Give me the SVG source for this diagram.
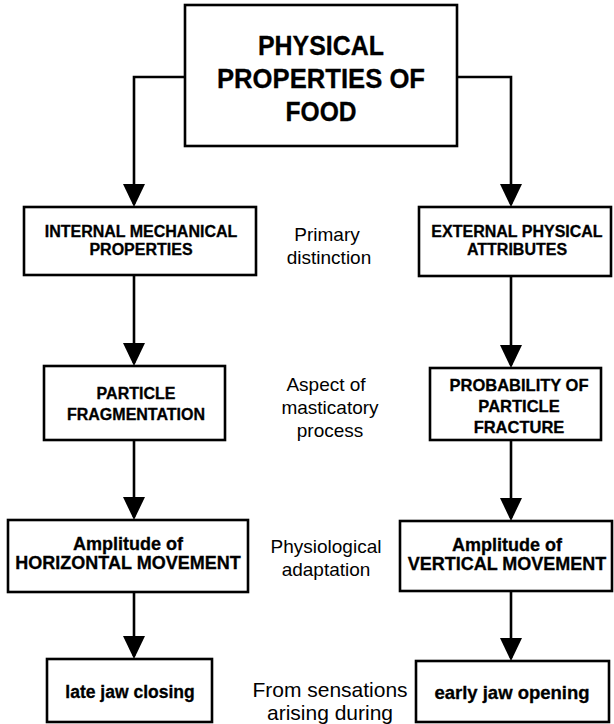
<svg xmlns="http://www.w3.org/2000/svg" width="614" height="724" viewBox="0 0 614 724">
  <style>
    .box { fill: #ffffff; stroke: #000000; stroke-width: 2.6; }
    .conn { fill: none; stroke: #000000; stroke-width: 2.6; }
    .t { font-family: "Liberation Sans", Arial, Helvetica, sans-serif; fill: #000000; text-anchor: middle; }
    .b { font-weight: bold; stroke: #000000; stroke-width: 0.3; }
    .title { font-size: 27px; }
    .cap { font-size: 16px; }
    .amp { font-size: 18px; }
    .end { font-size: 17.5px; }
    .lab { font-size: 19px; }
    .lab2 { font-size: 21px; }
  </style>
  <defs>
    <marker id="arrow" markerUnits="userSpaceOnUse" viewBox="0 0 23 22" markerWidth="23" markerHeight="22" refX="20" refY="11" orient="auto">
      <path d="M0,0 L23,11 L0,22 Z" fill="#000000"/>
    </marker>
  </defs>
  <rect width="614" height="724" fill="#ffffff"/>

  <!-- connectors -->
  <g id="connectors">
    <path class="conn" d="M185,77 H134 V204" marker-end="url(#arrow)"/>
    <path class="conn" d="M457,77 H511 V204" marker-end="url(#arrow)"/>
    <path class="conn" d="M134,275 V363" marker-end="url(#arrow)"/>
    <path class="conn" d="M511,276 V365" marker-end="url(#arrow)"/>
    <path class="conn" d="M134,440 V517" marker-end="url(#arrow)"/>
    <path class="conn" d="M511,440 V518" marker-end="url(#arrow)"/>
    <path class="conn" d="M134,592 V656" marker-end="url(#arrow)"/>
    <path class="conn" d="M511,591 V658" marker-end="url(#arrow)"/>
  </g>

  <!-- root -->
  <g id="physical-properties">
    <rect class="box" x="185" y="5" width="272" height="141"/>
    <text class="t b title" x="321" y="55" textLength="126" lengthAdjust="spacingAndGlyphs">PHYSICAL</text>
    <text class="t b title" x="321" y="88" textLength="208" lengthAdjust="spacingAndGlyphs">PROPERTIES OF</text>
    <text class="t b title" x="321" y="121" textLength="71" lengthAdjust="spacingAndGlyphs">FOOD</text>
  </g>

  <!-- left column -->
  <g id="internal-mechanical">
    <rect class="box" x="24" y="207" width="232" height="68"/>
    <text class="t b cap" x="141" y="237">INTERNAL MECHANICAL</text>
    <text class="t b cap" x="141" y="255">PROPERTIES</text>
  </g>
  <g id="particle-fragmentation">
    <rect class="box" x="44" y="366" width="181" height="74"/>
    <text class="t b cap" x="136" y="399">PARTICLE</text>
    <text class="t b cap" x="136" y="420">FRAGMENTATION</text>
  </g>
  <g id="horizontal-movement">
    <rect class="box" x="8" y="520" width="240" height="72"/>
    <text class="t b amp" x="128" y="550">Amplitude of</text>
    <text class="t b amp" x="128" y="569">HORIZONTAL MOVEMENT</text>
  </g>
  <g id="late-jaw-closing">
    <rect class="box" x="47" y="659" width="165" height="63"/>
    <text class="t b end" x="130" y="698">late jaw closing</text>
  </g>

  <!-- right column -->
  <g id="external-physical">
    <rect class="box" x="419" y="207" width="192" height="69"/>
    <text class="t b cap" x="517" y="237">EXTERNAL PHYSICAL</text>
    <text class="t b cap" x="517" y="255">ATTRIBUTES</text>
  </g>
  <g id="fracture-probability">
    <rect class="box" x="430" y="368" width="171" height="72"/>
    <text class="t b cap" x="519" y="391" style="font-size:16.5px">PROBABILITY OF</text>
    <text class="t b cap" x="519" y="412" style="font-size:16.5px">PARTICLE</text>
    <text class="t b cap" x="519" y="433" style="font-size:16.5px">FRACTURE</text>
  </g>
  <g id="vertical-movement">
    <rect class="box" x="400" y="521" width="212" height="70"/>
    <text class="t b amp" x="507" y="551">Amplitude of</text>
    <text class="t b amp" x="507" y="570">VERTICAL MOVEMENT</text>
  </g>
  <g id="early-jaw-opening">
    <rect class="box" x="416" y="661" width="193" height="61"/>
    <text class="t b end" x="512" y="699" style="font-size:18.5px">early jaw opening</text>
  </g>

  <!-- row labels -->
  <g id="row-labels">
    <text class="t lab" x="327" y="241">Primary</text>
    <text class="t lab" x="329" y="264">distinction</text>
    <text class="t lab" x="326" y="391">Aspect of</text>
    <text class="t lab" x="330" y="414">masticatory</text>
    <text class="t lab" x="330" y="437">process</text>
    <text class="t lab" x="326" y="553">Physiological</text>
    <text class="t lab" x="326" y="576">adaptation</text>
    <text class="t lab2" x="330" y="697">From sensations</text>
    <text class="t lab2" x="330" y="720">arising during</text>
  </g>
</svg>
